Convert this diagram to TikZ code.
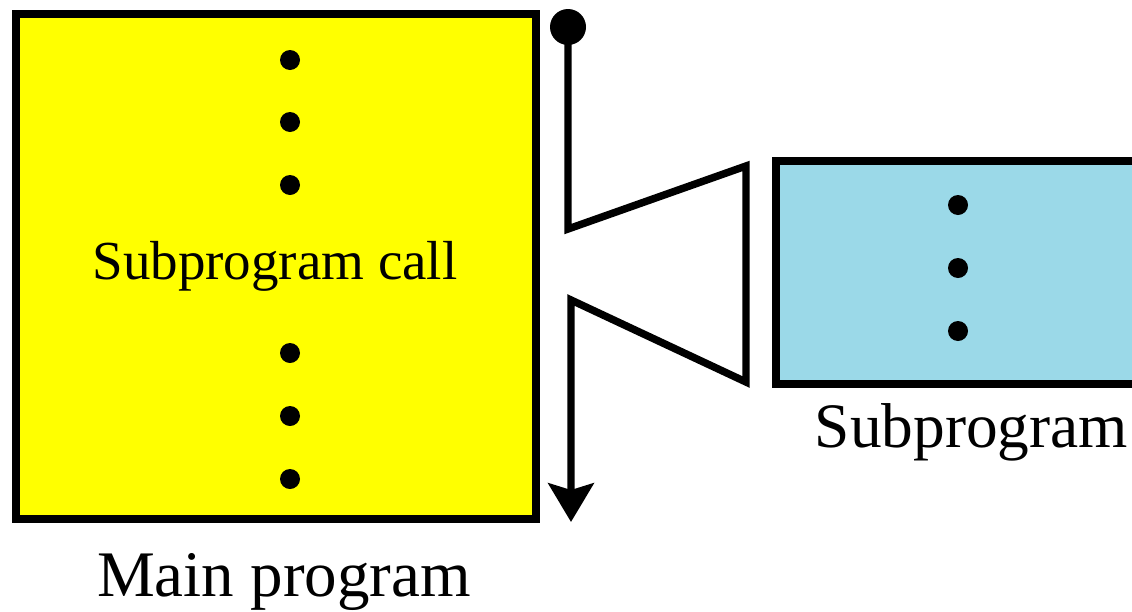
\documentclass[tikz,border=0pt]{standalone}
\usepackage{fontspec}
\setmainfont{Liberation Serif}
\usetikzlibrary{arrows.meta}
\definecolor{mainyellow}{HTML}{FFFF00}
\definecolor{subblue}{HTML}{9BD9E8}
\tikzset{
  boxstyle/.style={draw=black, line width=6.4pt, inner sep=0pt, rectangle},
  dotn/.style={circle, fill=black, inner sep=0pt, minimum size=15pt},
  startdot/.style={circle, fill=black, inner sep=0pt, minimum size=27pt},
  conn/.style={line width=5.6pt, line join=miter, miter limit=20},
  lbl/.style={anchor=base, inner sep=0pt}
}
\begin{document}
\begin{tikzpicture}[x=0.75pt, y=-0.75pt]
\useasboundingbox (0,0) rectangle (1132,611);
\fill[white] (0,0) rectangle (1132,611);
\clip (0,0) rectangle (1132,611);
% boxes
\node[boxstyle, fill=mainyellow, minimum width=390pt, minimum height=378.75pt] (main) at (276,266.5) {};
\node[boxstyle, fill=subblue, minimum width=303pt, minimum height=167.25pt] (sub) at (978,272.5) {};
% dots in main
\node[dotn] (m1) at (290,60) {};
\node[dotn] (m2) at (290,122) {};
\node[dotn] (m3) at (290,185) {};
\node[dotn] (m4) at (290,353) {};
\node[dotn] (m5) at (290,416) {};
\node[dotn] (m6) at (290,479) {};
% dots in sub
\node[dotn] (s1) at (958,205) {};
\node[dotn] (s2) at (958,268) {};
\node[dotn] (s3) at (958,331) {};
% texts
\node[lbl] (call) at (275,279) {\fontsize{41.25}{50}\selectfont Subprogram call};
\node[lbl] (mainlbl) at (284,596) {\fontsize{48.75}{58}\selectfont Main program};
\node[lbl] (sublbl) at (971.5,447) {\fontsize{47.5}{57}\selectfont Subprogram};
% connector
\node[startdot] (start) at (568,27) {};
\coordinate (c1) at (568,229);
\coordinate (c2) at (746,166);
\coordinate (c3) at (746,382);
\coordinate (c4) at (571,300);
\coordinate (c5) at (571,522);
\draw[conn, -{Stealth[length=29pt, width=34pt, inset=5pt]}]
  (start.center) -- (c1) -- (c2) -- (c3) -- (c4) -- (c5);
\end{tikzpicture}
\end{document}
